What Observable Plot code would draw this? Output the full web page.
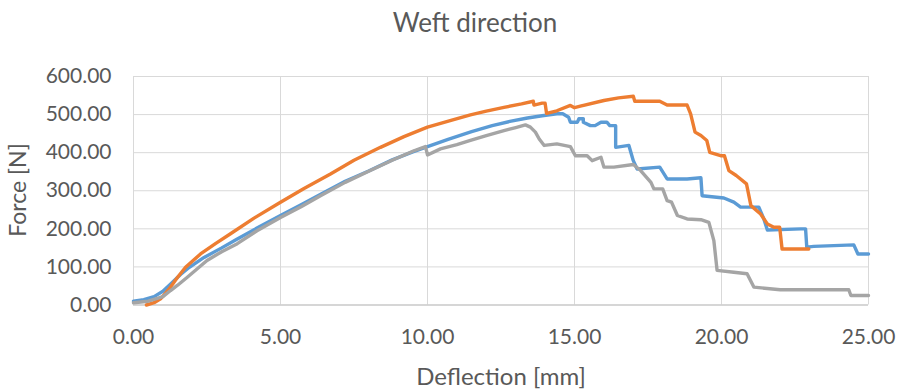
<!DOCTYPE html>
<html>
<head>
<meta charset="utf-8">
<script src="https://cdn.jsdelivr.net/npm/d3@7"></script>
<script src="https://cdn.jsdelivr.net/npm/@observablehq/plot@0.6"></script>
<style>
  html, body { margin: 0; padding: 0; background: #fff; }
  #wrap { position: relative; width: 903px; height: 390px; overflow: hidden; font-family: Lato, "Open Sans", sans-serif; color: #595959; }
  #title { position: absolute; left: 475px; top: 7px; transform: translateX(-50%); font-size: 26px; line-height: 30px; white-space: nowrap; }
  #chart { position: absolute; left: 0; top: 60px; }
  #xlabel { position: absolute; left: 501px; top: 362px; transform: translateX(-50%); font-size: 24px; line-height: 28px; white-space: nowrap; }
  #ylabel { position: absolute; left: 17px; top: 190px; transform: translate(-50%, -50%) rotate(-90deg); font-size: 23px; line-height: 28px; white-space: nowrap; }
</style>
</head>
<body>
<div id="wrap">
  <div id="title">Weft direction</div>
  <div id="chart"></div>
  <div id="xlabel">Deflection [mm]</div>
  <div id="ylabel">Force [N]</div>
</div>
<script>
// Series 1 (blue)
const s1Deflection = [0,0.35,0.7,1.0,1.3,1.6,1.9,2.4,3.0,3.5,4.2,5.0,5.7,6.4,7.2,8.0,8.8,9.5,10.0,10.7,11.5,12.2,12.8,13.4,13.9,14.4,14.6,14.8,14.86,15.1,15.15,15.3,15.3,15.54,15.7,15.9,16.1,16.2,16.4,16.4,16.85,17.0,17.13,17.9,18.15,18.83,19.3,19.34,20.08,20.42,20.65,21.27,21.44,21.56,22.7,22.86,22.9,23.14,24.5,24.64,25.0];
const s1Force      = [10,14,22,36,58,80,99,125,150,172,202,235,263,292,325,352,381,402,416,435,455,471,482,491,497,502,502,493,480,480,489,489,480,471,471,480,480,471,471,414,419,379,357,362,331,331,334,287,281,270,257,257,226,197,200,200,152,154,158,134,134];
// Series 2 (orange)
const s2Deflection = [0.44,0.7,0.92,1.1,1.26,1.5,1.77,2.28,2.8,3.3,4.1,5.0,5.8,6.7,7.5,8.4,9.2,10.0,10.8,11.46,12.0,12.6,13.2,13.6,13.62,13.9,14.0,14.05,14.4,14.86,15.0,15.2,16.0,16.5,17.0,17.05,17.9,18.15,18.83,18.95,19.1,19.3,19.5,19.6,19.97,20.1,20.25,20.5,20.85,21.0,21.33,21.56,21.78,21.98,22.06,22.97];
const s2Force      = [0,6,16,32,47,73,99,134,162,187,228,270,306,344,380,414,442,467,485,499,509,519,528,535,525,530,530,503,510,524,518,522,537,544,548,535,535,525,525,502,454,445,432,401,392,392,353,340,318,261,239,213,204,204,147,147];
// Series 3 (gray)
const s3Deflection = [0,0.5,1.0,1.26,1.5,1.83,2.2,2.5,3.0,3.53,4.2,5.0,5.7,6.36,7.2,8.0,8.8,9.54,9.93,10.0,10.44,11.0,11.46,12.0,12.6,13.0,13.33,13.5,13.67,13.8,13.97,14.4,14.86,15.03,15.43,15.6,15.9,16.0,16.34,17.0,17.25,17.6,17.7,18.0,18.15,18.3,18.5,18.83,19.3,19.57,19.74,19.85,20.42,20.87,21.1,22.0,24.33,24.4,25.0];
const s3Force      = [6,10,22,38,52,73,97,117,140,161,195,230,258,287,322,351,380,405,416,394,410,421,432,445,458,466,473,467,454,436,419,423,416,392,392,379,388,362,362,369,353,322,305,305,274,270,235,226,224,217,169,91,86,82,47,40,40,25,25];

const xTicks = [0, 5, 10, 15, 20, 25];
const yTicks = [0, 100, 200, 300, 400, 500, 600];
const seriesColors = ["#5B9BD5", "#ED7D31", "#A5A5A5"];

const toRows = (xs, ys) => xs.map((x, i) => ({x, y: ys[i]}));
const series = [toRows(s1Deflection, s1Force), toRows(s2Deflection, s2Force), toRows(s3Deflection, s3Force)];
const fmt = d3.format(".2f");

const chart = Plot.plot({
  width: 903,
  height: 330,
  marginLeft: 133,
  marginRight: 35,
  marginTop: 16,
  marginBottom: 85.5,
  style: {fontFamily: "Lato, 'Open Sans', sans-serif", color: "#595959", background: "transparent"},
  x: {domain: [0, 25]},
  y: {domain: [0, 600]},
  marks: [
    Plot.gridX(xTicks, {stroke: "#d9d9d9", strokeOpacity: 1, strokeWidth: 1}),
    Plot.gridY(yTicks, {stroke: "#d9d9d9", strokeOpacity: 1, strokeWidth: 1}),
    Plot.ruleY([0], {stroke: "#bfbfbf", strokeWidth: 1.2}),
    Plot.axisY(yTicks, {tickSize: 0, tickPadding: 22, tickFormat: fmt, fontSize: 21, fill: "#595959", label: null}),
    Plot.axisX(xTicks, {tickSize: 0, tickPadding: 24, tickFormat: fmt, fontSize: 21, fill: "#595959", label: null}),
    ...series.map((rows, i) => Plot.line(rows, {x: "x", y: "y", stroke: seriesColors[i], strokeWidth: 3.4, strokeLinejoin: "round", strokeLinecap: "round"}))
  ]
});
document.getElementById("chart").appendChild(chart);
</script>
</body>
</html>
